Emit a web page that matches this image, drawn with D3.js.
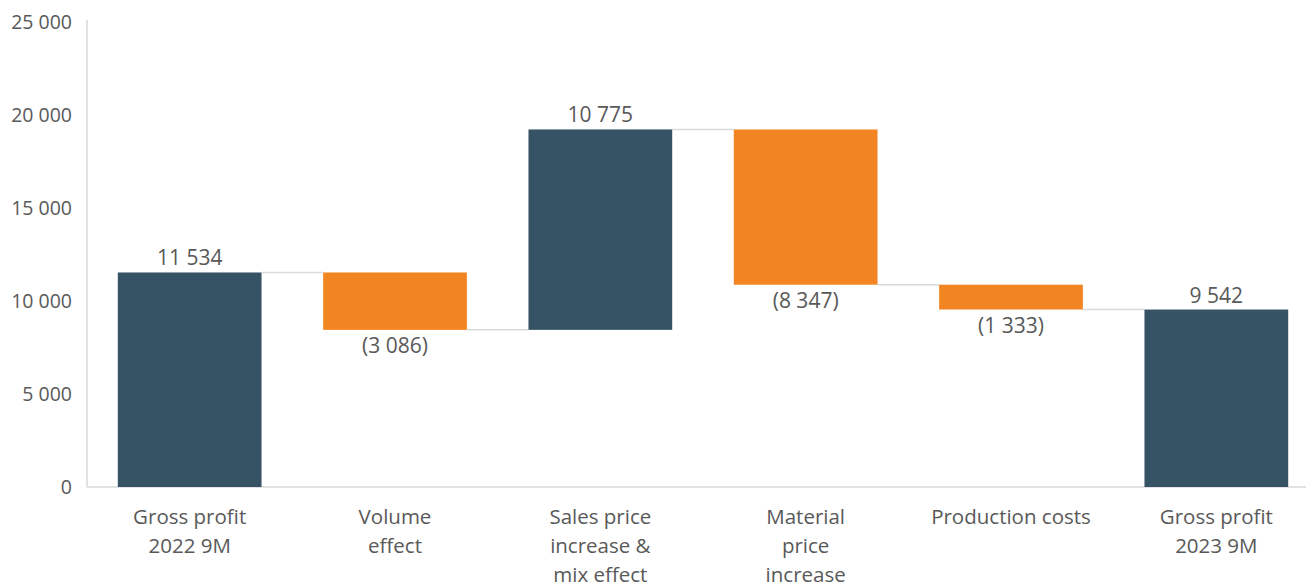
<!DOCTYPE html>
<html>
<head>
  <meta charset="utf-8">
  <title>Gross profit bridge</title>
  <style>
    body { margin: 0; background: #fff; }
    text { font-family: "Open Sans", sans-serif; fill: #595959; }
  </style>
  <script src="https://d3js.org/d3.v7.min.js"></script>
</head>
<body>
  <div id="chart"></div>
  <script>
    const categories = [
      ['Gross profit', '2022 9M'],
      ['Volume', 'effect'],
      ['Sales price', 'increase &', 'mix effect'],
      ['Material', 'price', 'increase'],
      ['Production costs'],
      ['Gross profit', '2023 9M']
    ];
    const values = [11534, -3086, 10775, -8347, -1333, 9542];
    const isTotal = [true, false, false, false, false, true];
    const yTicks = [0, 5000, 10000, 15000, 20000, 25000];

    const W = 1306, H = 584;
    const plotLeft = 87, plotTop = 22, plotBottom = 487;

    const svg = d3.select('#chart').append('svg')
      .attr('width', W).attr('height', H);

    const x = d3.scaleBand()
      .domain(d3.range(values.length))
      .range([plotLeft, 1319])
      .paddingInner(0.3)
      .paddingOuter(0.15);

    const y = d3.scaleLinear().domain([0, 25000]).range([plotBottom, plotTop]);

    const fmt = v => d3.format(',')(Math.abs(v)).replace(/,/g, ' ');

    // running totals
    let run = 0;
    const steps = values.map((v, i) => {
      let y0, y1;
      if (isTotal[i]) { y0 = 0; y1 = v; run = v; }
      else { y0 = run; y1 = run + v; run = y1; }
      return { i, v, y0, y1, end: run };
    });

    // axes lines
    svg.append('line')
      .attr('x1', plotLeft).attr('x2', plotLeft)
      .attr('y1', y(25000) - 2).attr('y2', plotBottom)
      .attr('stroke', '#d9d9d9').attr('stroke-width', 1.5);
    svg.append('line')
      .attr('x1', plotLeft).attr('x2', W)
      .attr('y1', plotBottom).attr('y2', plotBottom)
      .attr('stroke', '#d9d9d9').attr('stroke-width', 1.5);

    svg.selectAll('.ytick')
      .data(yTicks)
      .enter().append('text')
      .attr('x', 72)
      .attr('y', d => y(d))
      .attr('dy', '0.35em')
      .attr('text-anchor', 'end')
      .attr('font-size', 19.5)
      .text(d => fmt(d));

    // connectors
    svg.selectAll('.conn')
      .data(steps.slice(0, -1))
      .enter().append('line')
      .attr('x1', d => x(d.i) + x.bandwidth())
      .attr('x2', d => x(d.i + 1))
      .attr('y1', d => y(d.end))
      .attr('y2', d => y(d.end))
      .attr('stroke', '#d9d9d9').attr('stroke-width', 1.5);

    // bars
    svg.selectAll('.bar')
      .data(steps)
      .enter().append('rect')
      .attr('x', d => x(d.i))
      .attr('width', x.bandwidth())
      .attr('y', d => y(Math.max(d.y0, d.y1)))
      .attr('height', d => Math.abs(y(d.y0) - y(d.y1)))
      .attr('fill', d => d.v < 0 ? '#f28522' : '#365366');

    // value labels
    svg.selectAll('.val')
      .data(steps)
      .enter().append('text')
      .attr('x', d => x(d.i) + x.bandwidth() / 2)
      .attr('y', d => d.v < 0 ? y(Math.min(d.y0, d.y1)) + 23 : y(Math.max(d.y0, d.y1)) - 7)
      .attr('text-anchor', 'middle')
      .attr('font-size', 21)
      .text(d => d.v < 0 ? '(' + fmt(d.v) + ')' : fmt(d.v));

    // category labels
    const cat = svg.selectAll('.cat')
      .data(categories)
      .enter().append('text')
      .attr('text-anchor', 'middle')
      .attr('font-size', 20.5);
    cat.selectAll('tspan')
      .data((d, i) => d.map(t => ({ t, i })))
      .enter().append('tspan')
      .attr('x', d => x(d.i) + x.bandwidth() / 2)
      .attr('y', (d, j) => 524 + j * 29)
      .text(d => d.t);
  </script>
</body>
</html>
